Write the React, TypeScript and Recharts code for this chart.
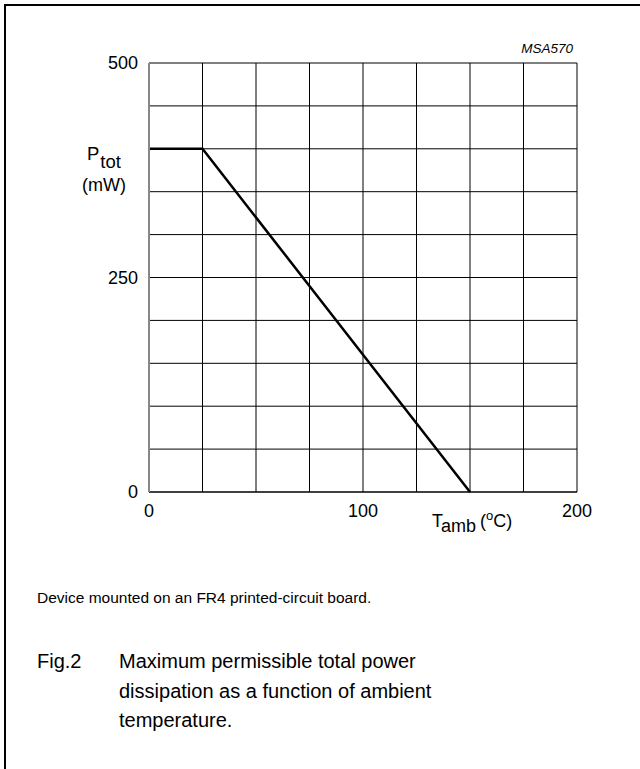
import { Line, LineChart, ReferenceLine, XAxis, YAxis } from "recharts";

// derating curve: flat up to 25 °C, then linear down to 0 at 150 °C
const temps = [0, 25, 150];
const power = [400, 400, 0];

const xGrid = [0, 25, 50, 75, 100, 125, 150, 175, 200];
const yGrid = [0, 50, 100, 150, 200, 250, 300, 350, 400, 450, 500];
const xLabels = [0, 100, 200];
const yLabels = [0, 250, 500];

const captionLines = [
  "Maximum permissible total power",
  "dissipation as a function of ambient",
  "temperature.",
];

const FONT = "'Liberation Sans', Arial, Helvetica, sans-serif";

export default function App() {
  const data = temps.map((t, i) => ({ t, p: power[i] }));

  return (
    <div
      style={{
        position: "absolute",
        left: 0,
        top: 0,
        width: 640,
        height: 769,
        background: "#fff",
        overflow: "hidden",
        fontFamily: FONT,
      }}
    >
      {/* page frame, top and left edges only */}
      <div
        style={{
          position: "absolute",
          left: 4,
          top: 4,
          width: 640,
          height: 800,
          borderTop: "2px solid #000",
          borderLeft: "2px solid #000",
        }}
      />
      <div style={{ position: "absolute", left: 0, top: 0 }}>
        <LineChart
          width={640}
          height={560}
          data={data}
          margin={{ top: 63, right: 63, left: 109, bottom: 38 }}
        >
          <XAxis
            dataKey="t"
            type="number"
            domain={[0, 200]}
            ticks={xGrid}
            interval={0}
            tickLine={false}
            tickSize={0}
            tickMargin={12}
            height={30}
            axisLine={{ stroke: "#000", strokeWidth: 1.5 }}
            tick={{ fill: "#000", fontSize: 18, fontFamily: FONT }}
            tickFormatter={(v: number) => (xLabels.includes(v) ? String(v) : "")}
          />
          <YAxis
            type="number"
            domain={[0, 500]}
            ticks={yGrid}
            interval={0}
            tickLine={false}
            tickSize={0}
            tickMargin={11}
            width={40}
            axisLine={{ stroke: "#888", strokeWidth: 2 }}
            tick={{ fill: "#000", fontSize: 18, fontFamily: FONT }}
            tickFormatter={(v: number) => (yLabels.includes(v) ? String(v) : "")}
          />
          {xGrid
            .filter((v) => v > 0)
            .map((v) => (
              <ReferenceLine key={"x" + v} x={v} stroke="#000" strokeWidth={1} />
            ))}
          {yGrid
            .filter((v) => v > 0)
            .map((v) => (
              <ReferenceLine key={"y" + v} y={v} stroke="#000" strokeWidth={1} />
            ))}
          <Line
            type="linear"
            dataKey="p"
            stroke="#000"
            strokeWidth={2.5}
            dot={false}
            isAnimationActive={false}
          />
        </LineChart>
      </div>

      {/* annotations */}
      <svg
        width={640}
        height={769}
        style={{ position: "absolute", left: 0, top: 0, pointerEvents: "none" }}
        fontFamily={FONT}
        fill="#000"
      >
        <text x={573} y={53} fontSize={13.5} fontStyle="italic" textAnchor="end">
          MSA570
        </text>
        <text x={87} y={160} fontSize={18.5}>
          P
          <tspan dx={1} dy={7.5}>
            tot
          </tspan>
        </text>
        <text x={82} y={191} fontSize={18}>
          (mW)
        </text>
        <text x={432} y={527} fontSize={18}>
          T
          <tspan dy={5}>amb</tspan>
          <tspan dx={4} dy={-5}>(</tspan>
          <tspan dy={-7} fontSize={13}>
            o
          </tspan>
          <tspan dy={7}>C)</tspan>
        </text>
        <text x={37} y={603} fontSize={15.5}>
          Device mounted on an FR4 printed-circuit board.
        </text>
        <text x={37} y={668} fontSize={20}>
          Fig.2
        </text>
        {captionLines.map((line, i) => (
          <text key={i} x={119} y={668 + i * 29.5} fontSize={20}>
            {line}
          </text>
        ))}
      </svg>
    </div>
  );
}
